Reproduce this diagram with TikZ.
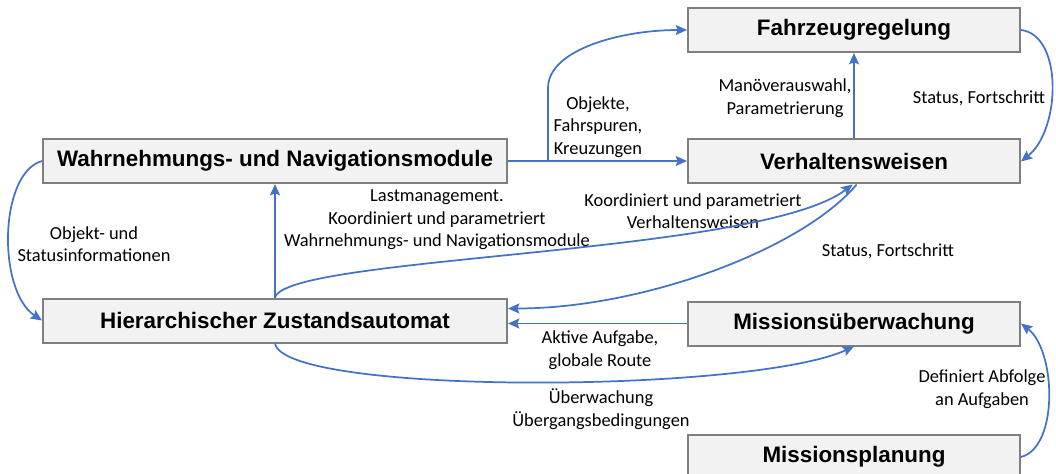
\documentclass[tikz,border=0pt]{standalone}
\usepackage{fontspec}
\setmainfont{Carlito}
\newfontfamily\boxfont{Liberation Sans}
\usetikzlibrary{arrows.meta}
\definecolor{flowblue}{HTML}{4472C4}
\definecolor{boxgray}{HTML}{F2F2F2}
\definecolor{boxline}{HTML}{7F7F7F}

\begin{document}
\begin{tikzpicture}[
    x=0.75pt, y=-0.75pt,
    module/.style={rectangle, draw=boxline, fill=boxgray, line width=1.5pt, minimum height=33pt, font=\boxfont\bfseries\fontsize{16.8}{20}\selectfont},
    wide/.style={module, minimum width=348pt},
    narrow/.style={module, minimum width=249pt},
    flow/.style={-{Stealth[length=8.5pt,width=7.5pt,inset=1.5pt]}, draw=flowblue, line width=1.3pt},
    lbl/.style={align=center, inner sep=0pt, font=\fontsize{13.8}{16.9}\selectfont},
]
\useasboundingbox (0,0) rectangle (1056,474);

\node[wide] (wahrn) at (275,161) {Wahrnehmungs- und Navigationsmodule};
\node[wide] (hsm) at (275,320.5) {Hierarchischer Zustandsautomat};
\node[narrow] (fzr) at (854,30) {Fahrzeugregelung};
\node[narrow] (verh) at (854,161.5) {Verhaltensweisen};
\node[narrow] (mue) at (854,323.5) {Missionsüberwachung};
\node[narrow] (mpl) at (854,457) {Missionsplanung};

\node[lbl] (l-objekte) at (598,127) {Objekte,\\Fahrspuren,\\Kreuzungen};
\node[lbl] (l-manoever) at (785,98) {Manöverauswahl,\\Parametrierung};
\node[lbl] (l-status1) at (979,98) {Status, Fortschritt};
\node[lbl] (l-objstat) at (94,244) {Objekt- und\\Statusinformationen};
\node[lbl] (l-last) at (437,220) {Lastmanagement.\\Koordiniert und parametriert\\Wahrnehmungs- und Navigationsmodule};
\node[lbl] (l-koord) at (693,211) {Koordiniert und parametriert\\Verhaltensweisen};
\node[lbl] (l-status2) at (888,251) {Status, Fortschritt};
\node[lbl] (l-aktiv) at (600,350) {Aktive Aufgabe,\\globale Route};
\node[lbl] (l-ueberw) at (601,409) {Überwachung\\Übergangsbedingungen};
\node[lbl] (l-abfolge) at (982,389) {Definiert Abfolge\\an Aufgaben};

\coordinate (split) at (548,161);
\draw[flow] (wahrn.east) -- (wahrn.east -| verh.west);
\draw[flow] (split) -- (548,88) .. controls (548,50) and (620,30) .. (fzr.west);
\draw[flow] (verh) -- (fzr);
\draw[flow] (fzr.east) .. controls +(42,5) and +(40,-32) .. (verh.east);
\draw[flow] (wahrn.west) .. controls +(-43,12) and +(-45,-30) .. (hsm.west);
\draw[flow] (hsm) -- (wahrn);
\draw[flow] (hsm.north) .. controls +(12,-42) and +(-94,71) .. ([xshift=-1pt]verh.south);
\draw[flow] ([xshift=2pt]verh.south) .. controls +(-55,65) and +(135,0) .. ([yshift=9pt]hsm.east);
\draw[flow] (mue.west) -- (mue.west -| hsm.east);
\draw[flow] (hsm.south) .. controls +(10,52) and +(-104,47) .. (mue.south);
\draw[flow] (mpl.east) .. controls +(38,-10) and +(35,27) .. (mue.east);
\end{tikzpicture}
\end{document}
